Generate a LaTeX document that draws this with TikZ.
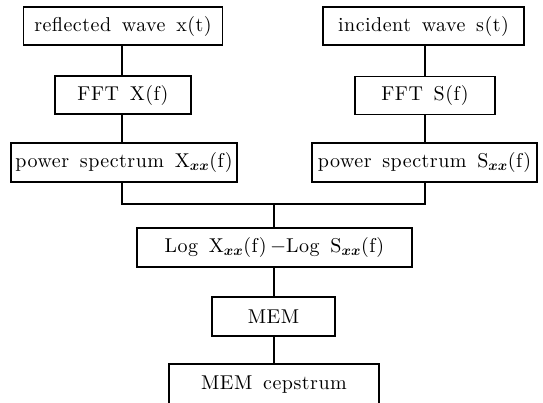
\documentclass[tikz,border=0pt]{standalone}
\usepackage{amsmath}
\usepackage{fontspec}
\newfontfamily\stagefont{lmroman10-regular}[Extension=.otf, LetterSpace=2.5, WordSpace=1.5]
\usetikzlibrary{positioning}

\tikzset{
  stage/.style={draw, line width=1.2pt, inner sep=0pt, align=center,
    minimum height=38pt, font=\stagefont\fontsize{20}{24}\selectfont},
  link/.style={line width=1.2pt}
}
\newcommand{\sxx}{$_{\boldsymbol{xx}}$}

\begin{document}
\begin{tikzpicture}[x=1pt, y=-1pt]
  \useasboundingbox (0,0) rectangle (543,402);

  % left branch
  \node[stage, minimum width=199pt] (refl) at (123,26) {reflected wave x(t)};
  \node[stage, minimum width=136pt] (fftx) at (123,95) {FFT X(f)};
  \node[stage, minimum width=226pt, minimum height=39pt] (powx) at (124,162.5) {power spectrum X\sxx(f)};

  % right branch
  \node[stage, minimum width=201pt] (inc) at (423.5,26) {incident wave s(t)};
  \node[stage, minimum width=140pt] (ffts) at (425,95.5) {FFT S(f)};
  \node[stage, minimum width=225pt, minimum height=39pt] (pows) at (424.5,162.5) {power spectrum S\sxx(f)};

  % common part
  \coordinate (join) at (274,204);
  \node[stage, minimum width=275pt, minimum height=39pt] (logdiff) at (274.5,247.5) {Log X\sxx(f)\,$-$Log S\sxx(f)};
  \node[stage, minimum width=123pt, minimum height=39pt] (mem) at (273.5,316.5) {MEM};
  \node[stage, minimum width=210pt, minimum height=42pt, text depth=0pt] (cep) at (274,385) {\raisebox{4pt}{MEM cepstrum}};

  % connectors
  \draw[link] (refl.south -| 122,0) -- (fftx.north -| 122,0);
  \draw[link] (fftx.south -| 122,0) -- (powx.north -| 122,0);
  \draw[link] (inc.south -| 425,0) -- (ffts.north -| 425,0);
  \draw[link] (ffts.south -| 425,0) -- (pows.north -| 425,0);
  \draw[link] (powx.south -| 122,0) -- (join -| 122,0) -- (join -| 425,0) -- (pows.south -| 425,0);
  \draw[link] (join) -- (logdiff.north -| join);
  \draw[link] (logdiff.south -| join) -- (mem.north -| join);
  \draw[link] (mem.south -| join) -- (cep.north -| join);
\end{tikzpicture}
\end{document}
